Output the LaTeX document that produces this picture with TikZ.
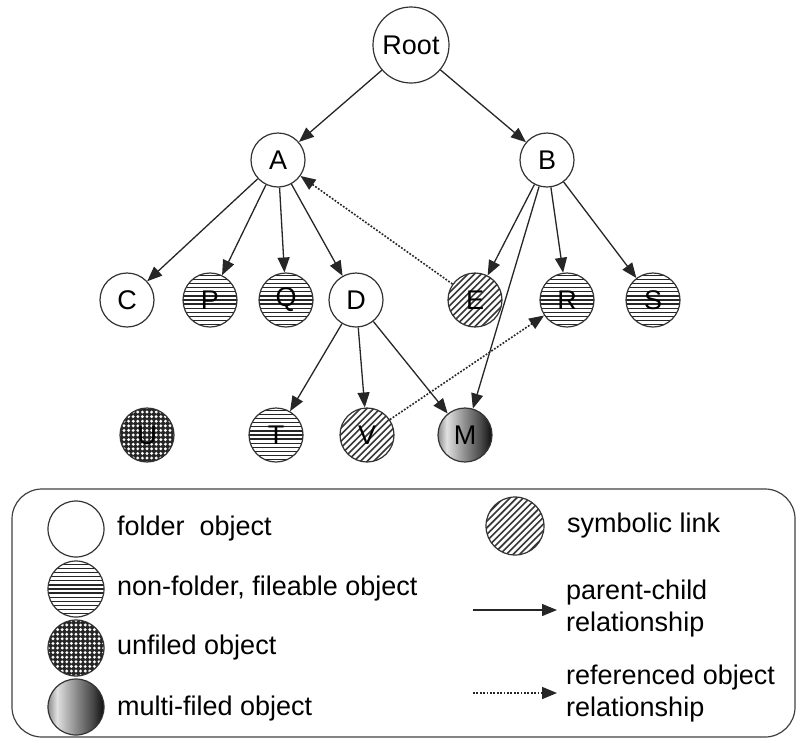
\documentclass[tikz,border=0pt]{standalone}
\usepackage{fontspec}
\setmainfont{Liberation Sans}
\usetikzlibrary{arrows.meta,shadings}
\pgfdeclarehorizontalshading{multifiled}{100bp}{color(0bp)=(black!45); color(25bp)=(black!45); color(33bp)=(black!12); color(50bp)=(black!45); color(65bp)=(black!72); color(75bp)=(black!95); color(100bp)=(black!95)}
\tikzset{
  obj/.style={circle, draw=black!80, line width=1.2pt, inner sep=0pt, minimum size=54pt, font=\fontsize{27}{30}\selectfont, text=black},
  folder/.style={obj, fill=white},
  fileable/.style={obj, fill=white, path picture={
      \foreach \k in {-8,...,8}
        \draw[black!85, line width=1.3pt] ([xshift=-40pt,yshift=\k*4.1pt]path picture bounding box.center) -- ++(80pt,0pt);}},
  symlink/.style={obj, fill=white, path picture={
      \foreach \k in {-10,...,10}
        \draw[black!78, line width=1.6pt] ([xshift=\k*6.6pt-40pt,yshift=-40pt]path picture bounding box.center) -- ++(80pt,80pt);}},
  unfiled/.style={obj, fill=black!85, path picture={
      \foreach \i in {-7,...,7}
        \foreach \j in {-7,...,7}
          \fill[white] ([xshift=\i*4.6pt,yshift=\j*4.6pt]path picture bounding box.center) circle (1.6pt);}},
  multi/.style={obj, shading=multifiled},
  pc/.style={-{Triangle[length=15pt,width=12pt]}, line width=1.3pt, draw=black!85},
  ref/.style={-{Triangle[length=15pt,width=12pt]}, line width=1.6pt, dash pattern=on 1.8pt off 1.6pt, draw=black!85},
  lgtext/.style={anchor=west, font=\fontsize{27}{32}\selectfont, align=left, inner sep=0pt}
}
\begin{document}
\begin{tikzpicture}[x=1pt,y=-1pt]
\useasboundingbox (0,0) rectangle (799,739);
% tree nodes
\node[folder, minimum size=76pt] (root) at (411,45) {Root};
\node[folder] (A) at (278,160) {A};
\node[folder] (B) at (547,160) {B};
\node[folder] (C) at (127,300) {C};
\node[fileable] (P) at (210,300) {P};
\node[fileable] (Q) at (286,300) {Q};
\node[folder] (D) at (356,300) {D};
\node[symlink] (E) at (475,300) {E};
\node[fileable] (R) at (567,300) {R};
\node[fileable] (S) at (653,300) {S};
\node[unfiled] (U) at (147,435) {U};
\node[fileable] (T) at (276,435) {T};
\node[symlink] (V) at (367,435) {V};
\node[multi] (M) at (465,435) {M};
% parent-child edges
\draw[pc] (root) -- (A);
\draw[pc] (root) -- (B);
\draw[pc] (A) -- (C);
\draw[pc] (A) -- (P);
\draw[pc] (A) -- (Q);
\draw[pc] (A) -- (D);
\draw[pc] (B) -- (E);
\draw[pc] (B) -- (R);
\draw[pc] (B) -- (S);
\draw[pc] (B) -- (M);
\draw[pc] (D) -- (T);
\draw[pc] (D) -- (V);
\draw[pc] (D) -- (M);
% referenced edges
\draw[ref] (E) -- (A);
\draw[ref] (V) -- (R);
% legend
\draw[rounded corners=30pt, line width=1.2pt, draw=black!75] (12,489) rectangle (795,737);
\node[folder, minimum size=56pt] (lf) at (76,529) {};
\node[lgtext] (lft) at (117,529) {folder~ object};
\node[fileable, minimum size=56pt] (ln) at (76,589) {};
\node[lgtext] (lnt) at (117,589) {non-folder, fileable object};
\node[unfiled, minimum size=56pt] (lu) at (76,648) {};
\node[lgtext] (lut) at (117,648) {unfiled object};
\node[multi, minimum size=56pt] (lm) at (76,707) {};
\node[lgtext] (lmt) at (117,709) {multi-filed object};
\node[symlink, minimum size=58pt] (ls) at (515,526) {};
\node[lgtext] (lst) at (567,526) {symbolic link};
\coordinate (pc1) at (473,610);
\coordinate (pc2) at (557,610);
\draw[pc] (pc1) -- (pc2);
\node[lgtext] (pct) at (566,609) {parent-child\\relationship};
\coordinate (rf1) at (473,693);
\coordinate (rf2) at (557,693);
\draw[ref] (rf1) -- (rf2);
\node[lgtext] (rft) at (566,694) {referenced object\\relationship};
\end{tikzpicture}
\end{document}
